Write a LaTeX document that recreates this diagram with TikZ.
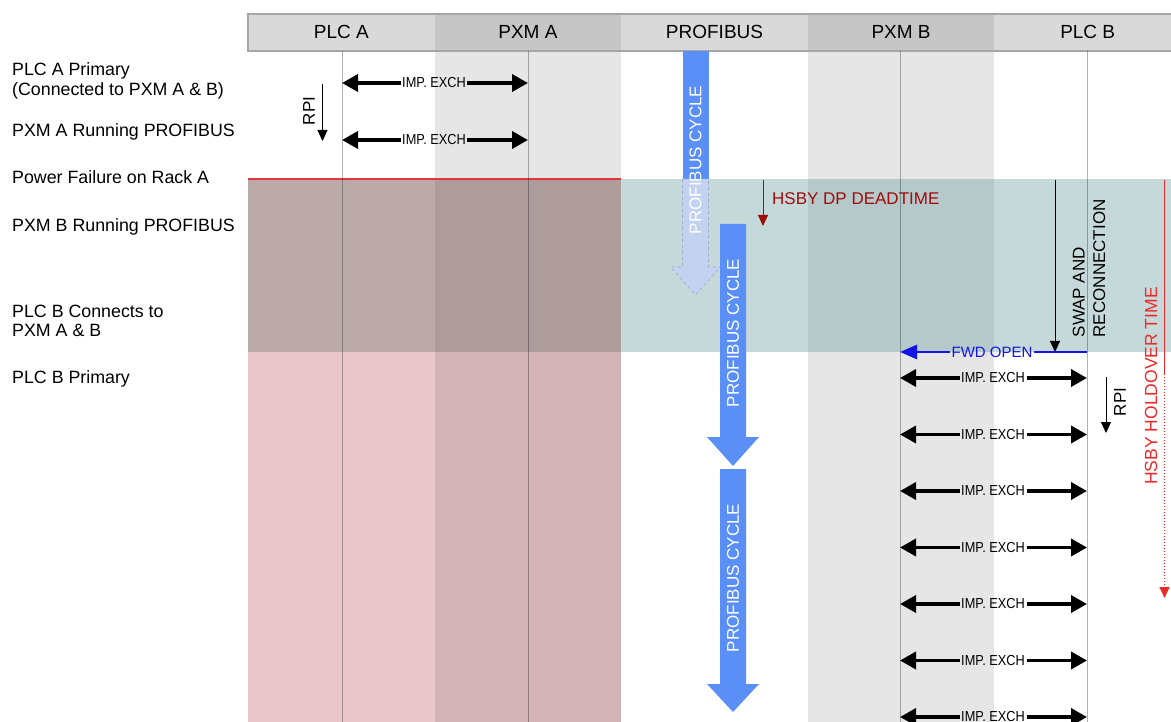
\documentclass[tikz,border=0pt]{standalone}
\usepackage{fontspec}
\setmainfont{Liberation Sans}
\usetikzlibrary{arrows.meta}
\definecolor{hdrL}{HTML}{D9D9D9}
\definecolor{hdrD}{HTML}{C6C6C6}
\definecolor{hdrLine}{HTML}{A6A6A6}
\definecolor{colG}{HTML}{E6E6E6}
\definecolor{pinkW}{HTML}{E9C6CA}
\definecolor{pinkG}{HTML}{D4B3B7}
\definecolor{darkW}{HTML}{BCAAAA}
\definecolor{darkG}{HTML}{AE9C9C}
\definecolor{tealW}{HTML}{C6D9DA}
\definecolor{tealG}{HTML}{B5C8CA}
\definecolor{pfblue}{HTML}{5B8FF8}
\definecolor{pfpale}{HTML}{C3D2F0}
\definecolor{pfdash}{HTML}{9AAAC8}
\definecolor{dtred}{HTML}{A00C0C}
\definecolor{hored}{HTML}{F02828}
\definecolor{pfred}{HTML}{E03838}
\definecolor{fwdblue}{HTML}{1414E6}
\newcommand{\impx}{\scalebox{0.88}[1]{IMP. EXCH}}
\begin{document}
\begin{tikzpicture}[x=1pt,y=-1pt,
  lbl/.style={anchor=base west, font=\fontsize{17.8}{20}\selectfont, inner sep=0pt},
  hcell/.style={minimum width=186.6pt, minimum height=37pt, inner sep=0pt, draw=none},
  htxt/.style={anchor=base, font=\fontsize{19}{21}\selectfont, inner sep=0pt},
  imp/.style={font=\fontsize{14.5}{16}\selectfont, inner sep=1.5pt},
  bi/.style={line width=3.6pt, -{Triangle[length=16pt,width=17pt]}},
  thinarr/.style={line width=1pt, -{Triangle[length=11pt,width=10pt]}},
  life/.style={black, opacity=0.3, line width=1pt},
  vtxt/.style={rotate=90, font=\fontsize{17}{20}\selectfont, inner sep=0pt}]
\useasboundingbox (0,0) rectangle (1171,722);
\fill[white] (0,0) rectangle (1171,722);
% body columns
\fill[colG] (435,51) rectangle (621,722);
\fill[colG] (808,51) rectangle (994,722);
% overlays
\fill[pinkW] (248,352) rectangle (435,722);
\fill[pinkG] (435,352) rectangle (621,722);
\fill[darkW] (248,179) rectangle (435,352);
\fill[darkG] (435,179) rectangle (621,352);
\fill[tealW] (621,179) rectangle (1171,352);
\fill[tealG] (808,179) rectangle (994,352);
\draw[pfred, line width=2pt] (248,179) -- (621,179);
% header
\node[hcell, fill=hdrL] (cPLCA) at (341.3,32.5) {};
\node[hcell, fill=hdrD] (cPXMA) at (527.9,32.5) {};
\node[hcell, fill=hdrL] (cPB) at (714.5,32.5) {};
\node[hcell, fill=hdrD] (cPXMB) at (901.1,32.5) {};
\node[hcell, fill=hdrL] (cPLCB) at (1087.7,32.5) {};
\draw[hdrLine, line width=1.2pt] (1175,14) -- (248,14) -- (248,51) -- (1175,51);
\node[htxt] (tPLCA) at (341.3,38.5) {PLC A};
\node[htxt] (tPXMA) at (527.9,38.5) {PXM A};
\node[htxt] (tPB) at (714.5,38.5) {PROFIBUS};
\node[htxt] (tPXMB) at (901.1,38.5) {PXM B};
\node[htxt] (tPLCB) at (1087.7,38.5) {PLC B};
% lifelines
\coordinate (la0) at (342,51); \coordinate (la1) at (342,722);
\coordinate (lb0) at (528,51); \coordinate (lb1) at (528,722);
\coordinate (lc0) at (900,51); \coordinate (lc1) at (900,722);
\coordinate (ld0) at (1087,51); \coordinate (ld1) at (1087,722);
\draw[life] (la0) -- (la1);
\draw[life] (lb0) -- (lb1);
\draw[life] (lc0) -- (lc1);
\draw[life] (ld0) -- (ld1);
% left labels
\node[lbl] (l1a) at (12,76) {PLC A Primary};
\node[lbl] (l1b) at (12,95.5) {(Connected to PXM A \& B)};
\node[lbl] (l2) at (12,137) {PXM A Running PROFIBUS};
\node[lbl] (l3) at (12,184) {Power Failure on Rack A};
\node[lbl] (l4) at (12,231.5) {PXM B Running PROFIBUS};
\node[lbl] (l5a) at (12,317.5) {PLC B Connects to};
\node[lbl] (l5b) at (12,336.5) {PXM A \& B};
\node[lbl] (l6) at (12,383) {PLC B Primary};
% top exchanges
\foreach \y [count=\i] in {83,140} {
  \coordinate (taL\i) at (342,\y);
  \coordinate (taR\i) at (528,\y);
  \node[imp] (ta\i) at (434,\y) {\impx};
  \draw[bi] (ta\i.west) -- (taL\i);
  \draw[bi] (ta\i.east) -- (taR\i);
}
\coordinate (rpiA0) at (322.5,84); \coordinate (rpiA1) at (322.5,141);
\draw[thinarr] (rpiA0) -- (rpiA1);
\node[vtxt] (rpiA) at (309,111) {RPI};
% profibus arrow 1 (ghost part)
\draw[pfdash, dashed, line width=0.6pt, fill=pfpale]
  (682.5,179) -- (682.5,267) -- (670.5,267) -- (695.5,295) -- (720.5,267) -- (708.5,267) -- (708.5,179);
\fill[pfblue] (682.5,51) rectangle (708.5,179.5);
\node[vtxt, white] (pc1) at (695.5,160) {PROFIBUS CYCLE};
% profibus arrow 2
\fill[pfblue] (720,224) -- (720,437) -- (707,437) -- (733,466) -- (759,437) -- (746,437) -- (746,224) -- cycle;
\node[vtxt, white] (pc2) at (733,333) {PROFIBUS CYCLE};
% profibus arrow 3
\fill[pfblue] (720,469) -- (720,684) -- (707,684) -- (733,712) -- (759,684) -- (746,684) -- (746,469) -- cycle;
\node[vtxt, white] (pc3) at (733,578) {PROFIBUS CYCLE};
% deadtime
\coordinate (dt0) at (763,180); \coordinate (dt1) at (763,226);
\draw[thinarr, dtred] (dt0) -- (dt1);
\node[anchor=west, font=\fontsize{17}{20}\selectfont, text=dtred, inner sep=0pt] (dt) at (772,199) {HSBY DP DEADTIME};
% swap
\coordinate (sw0) at (1055,180); \coordinate (sw1) at (1055,352);
\draw[thinarr] (sw0) -- (sw1);
\node[vtxt, anchor=west, align=left, font=\fontsize{17}{20.5}\selectfont] (sw) at (1089,337.5) {SWAP AND\\RECONNECTION};
% fwd open
\node[font=\fontsize{15}{17}\selectfont, text=fwdblue, inner sep=1.5pt] (fwd) at (992,352) {FWD OPEN};
\coordinate (fwL) at (900,352); \coordinate (fwR) at (1087,352);
\draw[fwdblue, line width=2.8pt, -{Triangle[length=17pt,width=14pt]}] (fwd.west) -- (fwL);
\draw[fwdblue, line width=2.8pt] (fwd.east) -- (fwR);
% bottom exchanges
\foreach \y [count=\i] in {378,434.5,491,547.5,604,660.5,717} {
  \coordinate (tbL\i) at (900,\y);
  \coordinate (tbR\i) at (1087,\y);
  \node[imp] (tb\i) at (993,\y) {\impx};
  \draw[bi] (tb\i.west) -- (tbL\i);
  \draw[bi] (tb\i.east) -- (tbR\i);
}
\coordinate (rpiB0) at (1106,377); \coordinate (rpiB1) at (1106,433);
\draw[thinarr] (rpiB0) -- (rpiB1);
\node[vtxt] (rpiB) at (1120,402) {RPI};
% holdover
\coordinate (ho0) at (1164.5,180); \coordinate (hoM) at (1164.5,374); \coordinate (ho1) at (1164.5,598);
\draw[hored, line width=0.9pt] (ho0) -- (hoM);
\draw[hored, line width=1pt, dotted, -{Triangle[length=11pt,width=10pt]}] (hoM) -- (ho1);
\node[vtxt, text=hored, font=\fontsize{17.5}{20}\selectfont] (ho) at (1151,386) {HSBY HOLDOVER TIME};
\end{tikzpicture}
\end{document}
